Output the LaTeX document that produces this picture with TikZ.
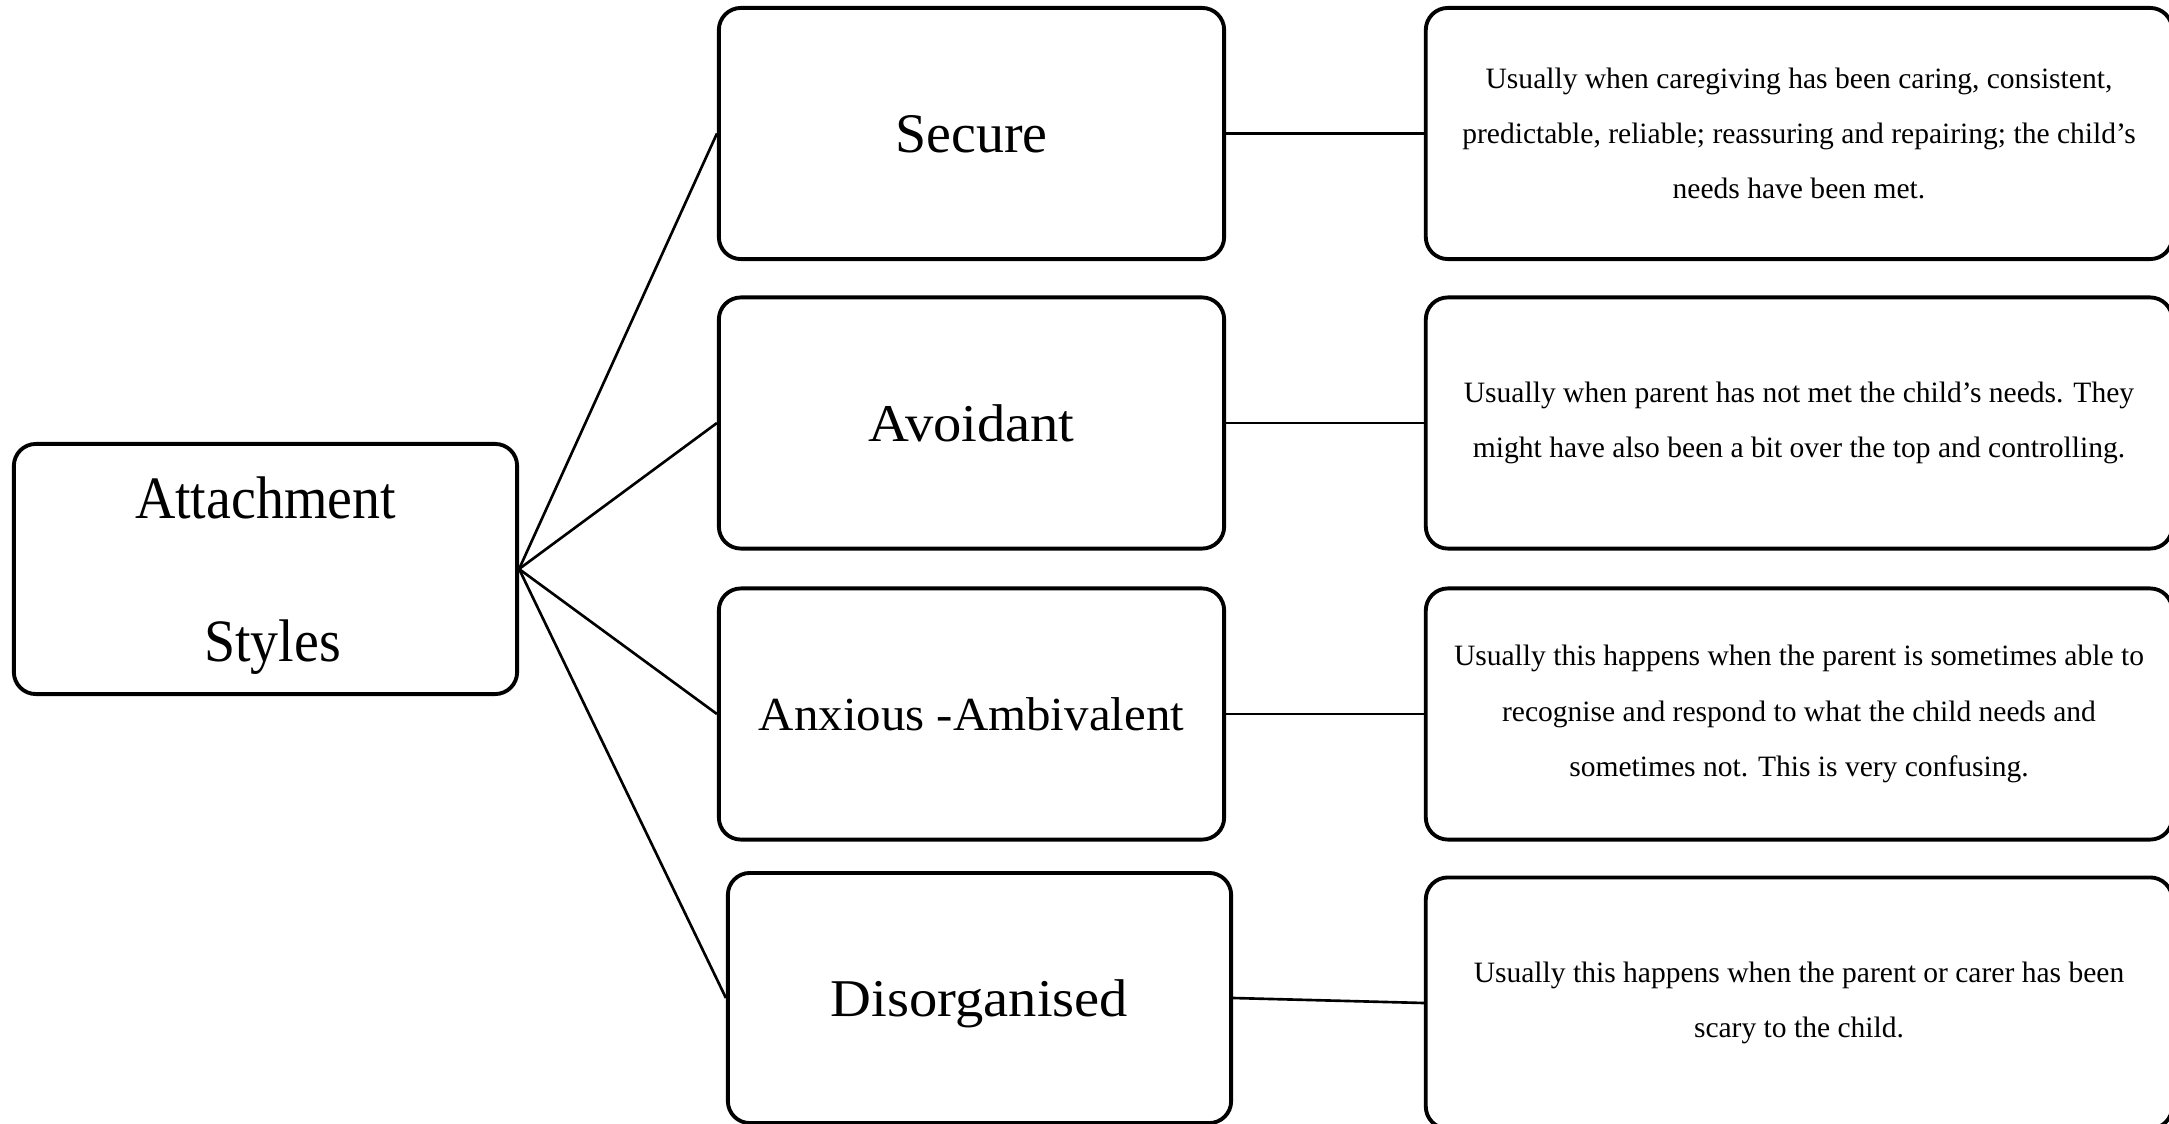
\documentclass[tikz,border=0pt]{standalone}
\usepackage{fontspec}
% the same serif face at several horizontal widths
\newfontfamily\rootfont[FakeStretch=0.93]{Liberation Serif}
\newfontfamily\securefont{Liberation Serif}
\newfontfamily\typefont[FakeStretch=1.065]{Liberation Serif}
\newfontfamily\widefont[FakeStretch=1.03]{Liberation Serif}
\tikzset{
  every picture/.style={x=0.01cm,y=-0.01cm},
  box/.style={draw=black,line width=1.1pt,rounded corners=0.22cm,fill=white,
    inner sep=0pt,align=center},
  typebox/.style={box,minimum width=5.05cm,minimum height=2.51cm,text depth=0pt,
    font=\typefont\fontsize{15.1}{18}\selectfont},
  descbox/.style={box,minimum width=7.46cm,minimum height=2.51cm,
    font=\securefont\fontsize{8.4}{15.7}\selectfont},
  link/.style={draw=black,line width=0.75pt}
}
\begin{document}
\begin{tikzpicture}
\useasboundingbox (0,0) rectangle (2169,1124);
\clip (0,0) rectangle (2169,1124);
\fill[white] (0,0) rectangle (2169,1124);

% central topic
\node[box,minimum width=5.03cm,minimum height=2.50cm,text depth=0pt,
  font=\rootfont\fontsize{17.1}{40.6}\selectfont] (root) at (265.5,569)
  {Attachment\\\hspace*{0.14cm}Styles};

% the four attachment types
\node[typebox,font=\securefont\fontsize{15.9}{19}\selectfont] (secure) at (971.5,133.5) {Secure};
\node[typebox] (avoid) at (971.5,423) {Avoidant};
\node[typebox,font=\widefont\fontsize{13.5}{16}\selectfont] (anx) at (971.5,714) {Anxious -Ambivalent};
\node[typebox,minimum width=5.03cm,minimum height=2.50cm] (dis) at (979.5,998) {Disorganised};

% descriptions
\node[descbox] (dsecure) at (1799,133.5)
  {Usually when caregiving has been caring, consistent,\\
   predictable, reliable; reassuring and repairing; the child’s\\
   needs have been met.};
\node[descbox] (davoid) at (1799,423)
  {Usually when parent has not met the child’s needs. They\\
   might have also been a bit over the top and controlling.};
\node[descbox] (danx) at (1799,714)
  {Usually this happens when the parent is sometimes able to\\
   recognise and respond to what the child needs and\\
   sometimes not. This is very confusing.};
\node[descbox] (ddis) at (1799,1003)
  {Usually this happens when the parent or carer has been\\
   scary to the child.};

% connectors
\draw[link] (root.east) -- (secure.west);
\draw[link] (root.east) -- (avoid.west);
\draw[link] (root.east) -- (anx.west);
\draw[link] (root.east) -- (dis.west);
\draw[link] (secure.east) -- (dsecure.west);
\draw[link] (avoid.east) -- (davoid.west);
\draw[link] (anx.east) -- (danx.west);
\draw[link] (dis.east) -- (ddis.west);
\end{tikzpicture}
\end{document}
